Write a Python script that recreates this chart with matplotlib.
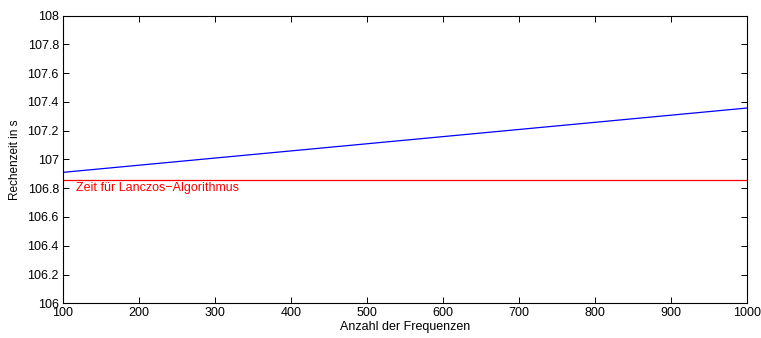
import matplotlib
matplotlib.use("Agg")
import matplotlib.pyplot as plt

# data
anzahl = [100, 1000]
rechenzeit = [106.910, 107.357]
lanczos_zeit = 106.859

ytick_werte = [106, 106.2, 106.4, 106.6, 106.8, 107, 107.2, 107.4, 107.6, 107.8, 108]
ytick_texte = ['106', '106.2', '106.4', '106.6', '106.8', '107',
               '107.2', '107.4', '107.6', '107.8', '108']

plt.rcParams['font.family'] = ['Liberation Sans', 'DejaVu Sans']

W, H = 761, 338
fig = plt.figure(figsize=(W / 100, H / 100), dpi=100)
# axes box in pixels: left 63, right 747, top 15.5, bottom 303.3
ax = fig.add_axes([63 / W, (H - 303.3) / H, 684 / W, 287.8 / H])

ax.plot(anzahl, rechenzeit, color='blue', linewidth=0.9)
ax.axhline(lanczos_zeit, color='red', linewidth=0.9)
ax.text(117, 106.80, 'Zeit für Lanczos\u2212Algorithmus', color='red',
        fontsize=9, va='center', ha='left')

ax.set_xlim(100, 1000)
ax.set_ylim(106, 108)
ax.set_xticks(range(100, 1001, 100))
ax.set_yticks(ytick_werte)
ax.set_yticklabels(ytick_texte)
ax.tick_params(direction='in', top=True, right=True, length=4.5, width=0.7,
               labelsize=9, pad=3)
for s in ax.spines.values():
    s.set_linewidth(0.8)

ax.set_xlabel('Anzahl der Frequenzen', fontsize=9, labelpad=1)
ax.set_ylabel('Rechenzeit in s', fontsize=8.5, labelpad=5)

fig.savefig('out.png', dpi=100)
